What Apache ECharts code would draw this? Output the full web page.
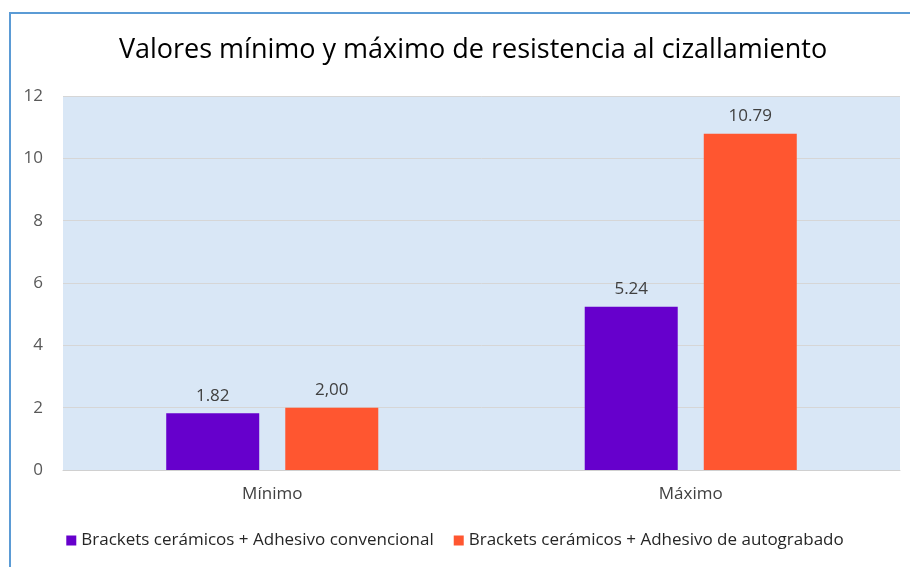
<!DOCTYPE html>
<html>
<head>
<meta charset="utf-8">
<title>Resistencia al cizallamiento</title>
<script src="https://cdn.jsdelivr.net/npm/echarts@6/dist/echarts.min.js"></script>
<style>
html, body { margin:0; height:100%; background:#fff; }
</style>
</head>
<body>
<div id="main" style="width:910px;height:567px;"></div>
<script>
// datos del grafico
var categorias = ['Mínimo', 'Máximo'];
var convencional = [1.82, 5.24];
var autograbado = [2.00, 10.79];
var etiquetasConv = ['1.82', '5.24'];
var etiquetasAuto = ['2,00', '10.79'];
var nombres = ['Brackets cerámicos + Adhesivo convencional', 'Brackets cerámicos + Adhesivo de autograbado'];

var fuente = 'Open Sans';
var myChart = echarts.init(document.getElementById('main'));

var option = {
    backgroundColor: '#ffffff',
    title: {
        text: 'Valores mínimo y máximo de resistencia al cizallamiento',
        left: 468,
        top: 32,
        textAlign: 'center',
        textStyle: { fontFamily: fuente, fontSize: 27, fontWeight: 'normal', color: '#000' }
    },
    legend: {
        data: nombres,
        bottom: 13,
        left: 'center',
        icon: 'rect',
        itemWidth: 10,
        itemHeight: 10,
        itemGap: 20,
        textStyle: { fontFamily: fuente, fontSize: 17, color: '#262626' }
    },
    grid: {
        left: 63,
        right: 10,
        top: 96,
        bottom: 97,
        show: true,
        backgroundColor: '#d9e7f6',
        borderWidth: 0
    },
    graphic: [
        { type: 'line', shape: { x1: 9, y1: 13, x2: 910, y2: 13 }, style: { stroke: '#5b9bd5', lineWidth: 2 } },
        { type: 'line', shape: { x1: 10, y1: 13, x2: 10, y2: 567 }, style: { stroke: '#5b9bd5', lineWidth: 2 } }
    ],
    xAxis: {
        type: 'category',
        data: categorias,
        axisLine: { show: true, lineStyle: { color: '#d0d0d0' } },
        axisTick: { show: false },
        axisLabel: { fontFamily: fuente, fontSize: 17, color: '#404040', margin: 16 }
    },
    yAxis: {
        type: 'value',
        min: 0,
        max: 12,
        interval: 2,
        axisLine: { show: false },
        axisTick: { show: false },
        axisLabel: { fontFamily: fuente, fontSize: 17, color: '#595959', margin: 20 },
        splitLine: { lineStyle: { color: '#d6d6d6', width: 1 } }
    },
    series: [
        {
            name: nombres[0],
            type: 'bar',
            data: convencional,
            barWidth: 93,
            barGap: '28%',
            itemStyle: { color: '#6600cc' },
            label: {
                show: true, position: 'top', distance: 9,
                fontFamily: fuente, fontSize: 17, color: '#404040',
                formatter: function (p) { return etiquetasConv[p.dataIndex]; }
            }
        },
        {
            name: nombres[1],
            type: 'bar',
            data: autograbado,
            barWidth: 93,
            itemStyle: { color: '#ff5630' },
            label: {
                show: true, position: 'top', distance: 9,
                fontFamily: fuente, fontSize: 17, color: '#404040',
                formatter: function (p) { return etiquetasAuto[p.dataIndex]; }
            }
        }
    ]
};

myChart.setOption(option);
</script>
</body>
</html>
